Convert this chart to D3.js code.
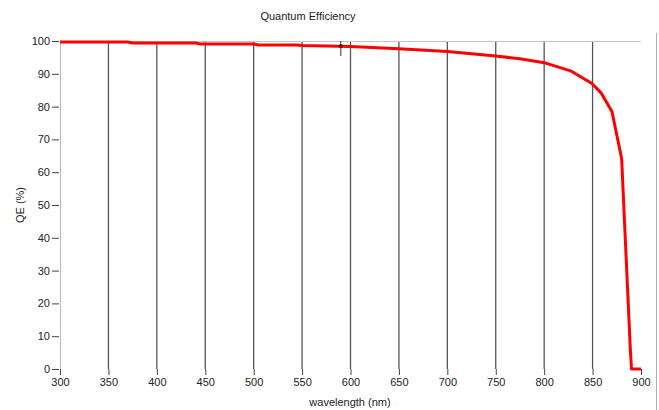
<!DOCTYPE html>
<html>
<head>
<meta charset="utf-8">
<script src="https://cdn.jsdelivr.net/npm/d3@7"></script>
<style>
  body { margin: 0; background: #fff; }
  text { font-family: "Liberation Sans", Arial, sans-serif; }
</style>
</head>
<body>
<svg id="chart" width="659" height="410"></svg>
<script>
// curve
const wavelength = [300, 370, 375, 440, 445, 500, 505, 545, 550, 600, 650, 700, 750, 775, 800, 828, 849, 859, 870, 880, 884.5, 889, 890.2, 900]
const qe = [99.7, 99.7, 99.4, 99.4, 99.1, 99.1, 98.8, 98.8, 98.6, 98.3, 97.6, 96.8, 95.4, 94.6, 93.4, 90.8, 87.1, 84.1, 78.5, 64.2, 35, 6, 0, 0]
const xTicks = [300, 350, 400, 450, 500, 550, 600, 650, 700, 750, 800, 850, 900]
const yTicks = [0, 10, 20, 30, 40, 50, 60, 70, 80, 90, 100]
const cursorWl = 590

const w = 659
const h = 410
const plotLeft = 60, plotRight = 641, plotTop = 41, plotBottom = 369

const svg = d3.select("#chart")

const x = d3.scaleLinear().domain([300, 900]).range([plotLeft, plotRight])
const y = d3.scaleLinear().domain([0, 100]).range([plotBottom, plotTop])

// vertical grid lines
svg.append("g")
  .selectAll("line")
  .data(xTicks.filter(d => d > 300 && d < 900))
  .enter()
  .append("line")
  .attr("x1", d => x(d)).attr("x2", d => x(d))
  .attr("y1", plotTop).attr("y2", plotBottom)
  .attr("stroke", "#555")
  .attr("stroke-width", 1.3)

// top border + left axis line
svg.append("line")
  .attr("x1", plotLeft).attr("x2", plotRight)
  .attr("y1", plotTop + 0.5).attr("y2", plotTop + 0.5)
  .attr("stroke", "#c4c4c4")
svg.append("line")
  .attr("x1", plotLeft + 0.5).attr("x2", plotLeft + 0.5)
  .attr("y1", plotTop).attr("y2", plotBottom)
  .attr("stroke", "#b8b8b8")

// right frame edge
svg.append("line")
  .attr("x1", 656.5).attr("x2", 656.5)
  .attr("y1", 33).attr("y2", h)
  .attr("stroke", "#b0b0b0")

const xAxis = d3.axisBottom(x)
  .tickValues(xTicks)
  .tickSize(6)
  .tickPadding(3)
const yAxis = d3.axisLeft(y)
  .tickValues(yTicks)
  .tickSize(7)
  .tickPadding(2)

const gx = svg.append("g")
  .attr("transform", `translate(0, ${plotBottom})`)
  .call(xAxis)
gx.select(".domain").remove()
gx.selectAll(".tick line").attr("stroke", "#444")
gx.selectAll("text").attr("font-size", 11).attr("fill", "#222")

const gy = svg.append("g")
  .attr("transform", `translate(${plotLeft - 1}, 0)`)
  .call(yAxis)
gy.select(".domain").remove()
gy.selectAll(".tick line").attr("stroke", "#444")
gy.selectAll("text").attr("font-size", 11).attr("fill", "#222")

// curve
const pts = wavelength.map((d, i) => [d, qe[i]])
svg.append("path")
  .datum(pts)
  .attr("fill", "none")
  .attr("stroke", "#ff0000")
  .attr("stroke-width", 3)
  .attr("stroke-linejoin", "round")
  .attr("d", d3.line().x(d => x(d[0])).y(d => y(d[1])))

// cursor marker
const cy = y(98.5)
svg.append("line")
  .attr("x1", x(cursorWl)).attr("x2", x(cursorWl))
  .attr("y1", cy - 5).attr("y2", cy + 10)
  .attr("stroke", "#333")
svg.append("circle")
  .attr("cx", x(cursorWl)).attr("cy", cy)
  .attr("r", 2)
  .attr("fill", "#6a1020")

// titles
svg.append("text")
  .attr("x", 308).attr("y", 20)
  .attr("text-anchor", "middle")
  .attr("font-size", 11)
  .attr("fill", "#222")
  .text("Quantum Efficiency")

svg.append("text")
  .attr("x", 350).attr("y", 406)
  .attr("text-anchor", "middle")
  .attr("font-size", 11)
  .attr("fill", "#222")
  .text("wavelength (nm)")

svg.append("text")
  .attr("transform", `translate(24, ${(plotTop + plotBottom) / 2}) rotate(-90)`)
  .attr("text-anchor", "middle")
  .attr("font-size", 11)
  .attr("fill", "#222")
  .text("QE (%)")
</script>
</body>
</html>
